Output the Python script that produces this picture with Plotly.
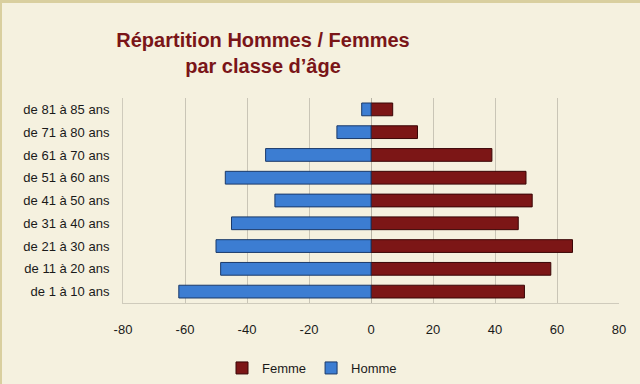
import plotly.graph_objects as go

categories = ["de 1 à 10 ans", "de 11 à 20 ans", "de 21 à 30 ans", "de 31 à 40 ans",
              "de 41 à 50 ans", "de 51 à 60 ans", "de 61 à 70 ans", "de 71 à 80 ans",
              "de 81 à 85 ans"]
femme = [49.5, 58, 65, 47.5, 52, 50, 39, 15, 7]
homme = [-62, -48.5, -50, -45, -31, -47, -34, -11, -3]
tick_vals = [-80, -60, -40, -20, 0, 20, 40, 60, 80]

bg = "#f5f1df"
L, R, T, B = 123, 21, 98, 81
PW, PH = 640 - L - R, 384 - T - B


def px(X):
    return (X - L) / PW


def py(Y):
    return (384 - B - Y) / PH


fig = go.Figure()
fig.add_trace(go.Bar(y=categories, x=femme, name="Femme", orientation="h",
                     marker=dict(color="#7c1616", line=dict(color="#3a0606", width=1)),
                     width=0.56))
fig.add_trace(go.Bar(y=categories, x=homme, name="Homme", orientation="h",
                     marker=dict(color="#3c7dd2", line=dict(color="#1b3a6a", width=1)),
                     width=0.56))

fig.update_layout(
    width=640, height=384,
    paper_bgcolor=bg, plot_bgcolor=bg,
    barmode="relative",
    margin=dict(l=L, r=R, t=T, b=B, autoexpand=False),
    font=dict(family="Liberation Sans, Arial, sans-serif", size=13, color="#1a1a1a"),
    title=dict(text="<b>Répartition Hommes / Femmes<br>par classe d’âge</b>",
               x=263/640, xref="container", xanchor="center",
               y=1 - 47/384, yref="container", yanchor="top",
               font=dict(size=20, color="#7a1518", family="Liberation Sans, Arial, sans-serif")),
    xaxis=dict(range=[-80, 80], tickvals=tick_vals, ticktext=[str(v) for v in tick_vals],
               showgrid=True, gridcolor="#c9c5b6", gridwidth=1,
               zeroline=True, zerolinecolor="#b8b4a5", zerolinewidth=1,
               showline=True, linecolor="#cfcbbc", ticks="", tickfont=dict(size=13),
               ticklabelstandoff=14, automargin=False),
    yaxis=dict(showgrid=False, showline=True, linecolor="#cfcbbc", ticks="",
               ticklabelstandoff=10, tickfont=dict(size=13), automargin=False),
    legend=dict(orientation="h", x=px(312), xanchor="center", y=py(368), yanchor="middle",
                traceorder="normal", font=dict(size=13), bgcolor="rgba(0,0,0,0)",
                itemwidth=30),
    showlegend=True,
)
fig.add_shape(type="rect", xref="paper", yref="paper", x0=px(0), x1=px(640),
              y0=py(3), y1=py(0), line=dict(width=0), fillcolor="#d9cf9f", layer="above")
fig.add_shape(type="rect", xref="paper", yref="paper", x0=px(0), x1=px(2),
              y0=py(384), y1=py(0), line=dict(width=0), fillcolor="#d9cf9f", layer="above")
fig.write_html("out.html", config={"displayModeBar": False},
               post_script="document.body.style.margin='0';document.body.style.overflow='hidden';")
